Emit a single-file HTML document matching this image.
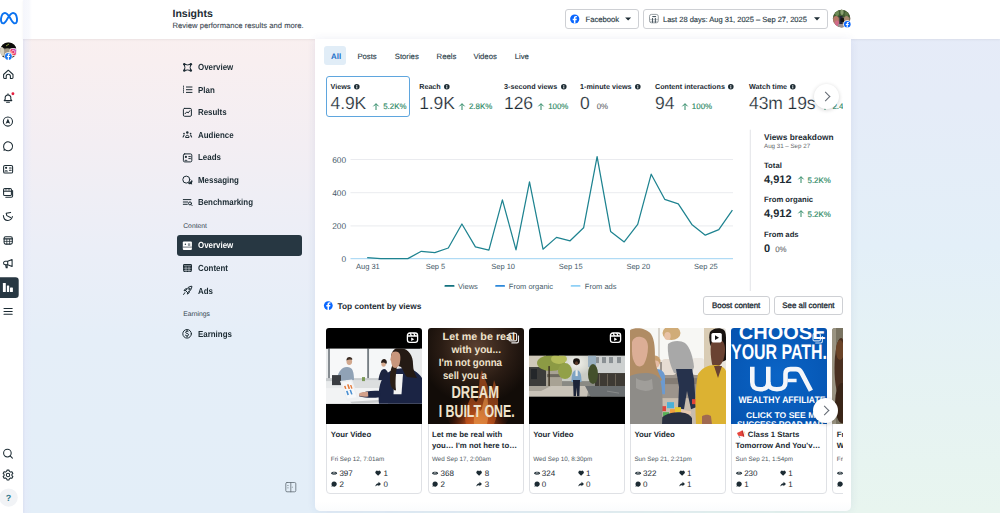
<!DOCTYPE html>
<html><head><meta charset="utf-8">
<style>
*{margin:0;padding:0;box-sizing:border-box}
html,body{width:1000px;height:513px;overflow:hidden}
body{text-rendering:geometricPrecision;font-family:"Liberation Sans",sans-serif;color:#1c2b33;position:relative;background:#eceef6}
.a{position:absolute}
.t{position:absolute;white-space:nowrap;line-height:1}
.b{font-weight:bold}
#bgL{left:0;top:0;width:1000px;height:513px;background:linear-gradient(180deg,#fbf0ef 0%,#f8eff0 12%,#f3eef3 28%,#ebeef7 48%,#e5eef8 66%,#e3eef8 100%)}
#bgS{left:23px;top:39px;width:9px;height:474px;background:linear-gradient(90deg,rgba(228,232,250,.7),rgba(228,232,250,0))}
#bgR{left:0;top:0;width:1000px;height:513px;background:linear-gradient(180deg,#e6ebf8 0%,#e5ecf8 20%,#e3eff8 48%,#e6f3f2 80%,#e8f5ef 100%);-webkit-mask-image:linear-gradient(90deg,transparent 0,transparent 300px,#000 860px,#000 1000px)}
#rail{left:0;top:0;width:23px;height:513px;background:#fff;box-shadow:1px 0 2px rgba(0,0,0,.04)}
#hdr{left:23px;top:0;width:977px;height:39px;background:linear-gradient(90deg,#f5f6fc 0,#f8f9fd 6px,#fff 9px);box-shadow:0 1px 2px rgba(0,0,0,.06)}
#main{left:315.2px;top:39px;width:535.6px;height:471.5px;background:linear-gradient(180deg,#fff 0,#fff 462px,#fbfcfd 471px);border-radius:0 0 5px 5px;box-shadow:0 0 9px rgba(60,70,150,.085)}
.nav{font-size:8.8px;font-weight:bold;color:#1c2b33;transform:scaleX(.9);transform-origin:0 0}
.sec{font-size:6.8px;color:#34434e}
svg{position:absolute;overflow:visible}
.tab{top:52.8px;font-size:7.7px;color:#283b47;-webkit-text-stroke:.12px #283b47}
.mlab{top:13px;font-size:7.2px;font-weight:bold;color:#1c2b33}
.inf{display:inline-block;width:5.6px;height:5.6px;margin-left:3.4px;vertical-align:-0.3px;position:relative}
.inf:after{content:"";position:absolute;left:2.3px;top:2.1px;width:.9px;height:2.2px;background:#fff}
.inf:before{content:"";position:absolute;left:2.3px;top:1px;width:.9px;height:.8px;background:#fff}
.mval{top:25.3px;font-size:17.5px;color:#1c2b33;letter-spacing:-.1px;-webkit-text-stroke:.22px #fff}
.chg{font-size:7.9px;color:#2e8a66;margin-left:7px;letter-spacing:0;-webkit-text-stroke:.15px #2e8a66}
.ua{position:relative;display:inline-block;width:6px;height:7px;margin-right:4px;vertical-align:-0.3px}
.card{position:absolute;top:8.2px;width:96px;height:166px;border:1px solid #dfe1e5;border-radius:4px;background:#fff}
.th{overflow:hidden;position:absolute;left:-1px;top:-1px;width:96px;height:96.2px;border-radius:3px 3px 0 0}
.ctt{position:absolute;left:3.4px;top:100.3px;font-size:7.8px;font-weight:bold;line-height:11px;white-space:nowrap;color:#1c2b33}
.mg{position:relative;display:inline-block;width:9.5px;height:8.5px;vertical-align:-1px;margin-right:.5px}
.cdt{position:absolute;left:3.4px;top:127.8px;font-size:6.3px;line-height:1;white-space:nowrap;color:#4f5a63}
.cst{position:absolute;left:3.8px;font-size:8px;line-height:8px;white-space:nowrap;color:#1c2b33}
.cst .ic{position:relative;display:inline-block;width:6.2px;height:6.2px;margin-right:2px;vertical-align:-0.4px}
.btn{top:295.9px;height:18.9px;border:1px solid #ced0d4;border-radius:3px;background:#fff;font-size:7.9px;-webkit-text-stroke:.3px #1c2b33;text-align:center;line-height:18px;color:#1c2b33;white-space:nowrap}
.nxt{width:25px;height:25px;border-radius:50%;background:#fff;box-shadow:0 1px 4px rgba(0,0,0,.18)}
.nxt:after{content:"";position:absolute;left:8.6px;top:8.8px;width:6px;height:6px;border-right:1px solid #606770;border-top:1px solid #606770;transform:rotate(45deg)}

</style></head><body>
<div id="bgL" class="a"></div>
<div id="bgR" class="a"></div>
<div id="bgS" class="a"></div>

<!-- left rail -->
<div id="rail" class="a"></div>
<svg style="left:0;top:0" width="23" height="513" viewBox="0 0 23 513">
 <!-- meta logo -->
 <path d="M3 23.4C1.1 23.4 .8 20.2 1.1 18.2 1.6 14.8 3.3 13 5 13 7 13 8.5 15.2 10.5 18.6 12 21.2 13.1 23.4 15 23.4 16.9 23.4 17.2 20.6 16.9 18.2 16.5 15 15 13 13 13 11 13 9.5 15.2 7.5 18.6 6 21.2 4.9 23.4 3 23.4Z" fill="none" stroke="#0a72f0" stroke-width="1.9"/>
 <!-- avatar -->
 <defs><clipPath id="av"><circle cx="8.4" cy="50.6" r="8.2"/></clipPath>
 <linearGradient id="ig" x1="0" y1="1" x2="1" y2="0"><stop offset="0" stop-color="#ffb13a"/><stop offset=".45" stop-color="#f0335c"/><stop offset="1" stop-color="#a44cf2"/></linearGradient></defs>
 <g clip-path="url(#av)">
  <rect x="0" y="42" width="17" height="18" fill="#8f8a7c"/>
  <rect x="0" y="42" width="17" height="6.5" fill="#0c0c0a"/>
  <ellipse cx="1.5" cy="52" rx="3" ry="5" fill="#d8d2bf"/>
  <ellipse cx="7.5" cy="52" rx="3" ry="3.6" fill="#a59a86"/>
  <rect x="0" y="56" width="17" height="5" fill="#3a3c34"/>
  <path d="M6 46l3-2" stroke="#8a9a40" stroke-width="1"/>
 </g>
 <rect x="10" y="48.6" width="6.3" height="7" rx="1.6" fill="url(#ig)" stroke="#fff" stroke-width=".8"/>
 <rect x="11.8" y="50.5" width="2.8" height="3" rx=".8" fill="none" stroke="#fff" stroke-width=".6"/>
 <circle cx="8.4" cy="56.4" r="4.1" fill="#fff"/>
 <circle cx="8.4" cy="56.4" r="3.4" fill="#1877f2"/>
 <path d="M8.9 60v-3h1l.2-1.1H8.9v-.8c0-.4.2-.6.6-.6h.7v-1a5 5 0 0 0-.9-.1c-1 0-1.5.6-1.5 1.5v1h-.9V57h.9v3z" fill="#fff"/>
 <g fill="none" stroke="#1c2b33" stroke-width="1.05" stroke-linejoin="round" stroke-linecap="round">
  <!-- home -->
  <path d="M3.6 74.5L8.3 70.2 13 74.5V77.6a.9.9 0 0 1-.9.9H10.4V76.3a2.1 2.1 0 0 0-4.2 0V78.5H4.5a.9.9 0 0 1-.9-.9Z"/>
  <!-- bell -->
  <path d="M4.2 100.6h7.6l-1-1.4V97a2.9 2.9 0 0 0-5.6 0v2.2Z"/>
  <path d="M6.6 102.3h2.8"/>
  <path d="M8 93.8v.5"/>
  <!-- compass -->
  <circle cx="7.9" cy="121.5" r="4.6"/>
  <!-- chat -->
  <path d="M5 149.6A4.5 4.5 0 1 0 3.6 146.5c0 .9.3 1.8.7 2.5L4 150.3Z"/>
  <!-- contact card -->
  <rect x="3.6" y="165.4" width="9" height="7.7" rx="1.4"/>
  <path d="M9.4 168h1.8M9.4 170.2h1.8"/>
  <!-- stacked -->
  <rect x="3.6" y="188.4" width="7.8" height="7.2" rx="1.2"/>
  <path d="M12.6 190.5V196a1.3 1.3 0 0 1-1.3 1.3H5.8"/>
  <path d="M3.6 191.3h7.8"/><path d="M5.3 189.9h1.2M8 189.9h1.6" stroke-width=".8"/>
  <!-- swirl -->
  <path d="M3.4 215.6c.3 3.2 2 4.9 4.5 4.8 2.1-.1 3.8-1.4 4.5-3.8"/>
  <path d="M6.2 213.3l4.4-.9M6.2 213.3l.6 2.3 3.7 1.9"/>
  <!-- calendar -->
  <rect x="4.1" y="236.8" width="8.2" height="7.3" rx="1.5"/>
  <path d="M4.1 238.9h8.2" stroke-width="1.3"/>
  <path d="M4.3 241.4h7.8M6.8 239.4v4.6M9.6 239.4v4.6" stroke-width=".75"/>
  <!-- megaphone -->
  <path d="M7.7 261.3H5.3a1.75 1.75 0 0 0 0 3.5h2.4ZM7.7 261.3l4.4-1.7v7l-4.4-1.8"/>
  <path d="M5.7 264.9l.5 2.9h1l-.1-2.9"/>
  <!-- hamburger -->
  <path d="M4 308.5h8.2M4 311.4h8.2M4 314.2h8.2"/>
  <!-- search -->
  <circle cx="7.4" cy="453.1" r="3.8"/>
  <path d="M10.2 455.9l2.2 2.2"/>
  <!-- gear -->
  <circle cx="8" cy="475" r="1.7"/>
  <path d="M7 470.1h2l.4 1.3 1.2.7 1.3-.4 1 1.7-1 1v1.2l1 1-1 1.7-1.3-.4-1.2.7-.4 1.3H7l-.4-1.3-1.2-.7-1.3.4-1-1.7 1-1v-1.2l-1-1 1-1.7 1.3.4 1.2-.7Z"/>
 </g>
 <g fill="#1c2b33">
  <path d="M7.9 118.6l2.3 5.2-2.3-1-2.3 1Z"/>
  <circle cx="6.1" cy="167.8" r="1.1"/>
  <path d="M4.3 171.6a1.9 1.6 0 0 1 3.7 0Z"/>
  
 </g>
 <circle cx="12.9" cy="93.7" r="1.45" fill="#e41e3f"/>
 <!-- active insights -->
 <rect x="-4" y="277.2" width="22.7" height="20.8" rx="3.2" fill="#273742"/>
 <g fill="#fff"><rect x="2.9" y="283" width="2.9" height="8.9" rx=".5"/><rect x="6.9" y="285.6" width="2.3" height="6.3" rx=".5"/><rect x="10" y="287.4" width="2.9" height="4.5" rx=".5"/></g>
 <!-- help -->
 <circle cx="8.6" cy="497.6" r="9.2" fill="#f1f3f6"/>
 <text x="8.6" y="500.8" font-family="Liberation Sans" font-weight="bold" font-size="9" fill="#357d92" text-anchor="middle">?</text>
</svg>

<!-- header -->
<div id="hdr" class="a"></div>
<div class="t b" style="left:172.5px;top:9.2px;font-size:10.5px;color:#1c2b33">Insights</div>
<div class="t" style="left:172.5px;top:21.6px;font-size:7.65px;color:#3d4852;-webkit-text-stroke:.1px #3d4852">Review performance results and more.</div>

<!-- header controls -->
<div class="a" style="left:565.3px;top:9.2px;width:73.4px;height:20px;border:1px solid #ced0d4;border-radius:3px;background:#fff"></div>
<div class="a" style="left:643.4px;top:9.3px;width:184.3px;height:19.9px;border:1px solid #ced0d4;border-radius:3px;background:#fff"></div>
<div class="t" style="left:585.6px;top:15.5px;font-size:7.7px;color:#2b3c47;letter-spacing:-.05px;-webkit-text-stroke:.15px #2b3c47">Facebook</div>
<div class="t" style="left:663px;top:15.6px;font-size:7.5px;color:#2b3c47;-webkit-text-stroke:.15px #2b3c47">Last 28 days: Aug 31, 2025 – Sep 27, 2025</div>
<svg style="left:0;top:0" width="1000" height="40" viewBox="0 0 1000 40">
 <circle cx="574.7" cy="19" r="4.6" fill="#0866ff"/>
 <path d="M575.4 23.6v-3.4h1.2l.2-1.4h-1.4v-.9c0-.4.2-.7.7-.7h.8v-1.2a8 8 0 0 0-1.1-.1c-1.1 0-1.9.7-1.9 1.9v1h-1.2v1.4h1.2v3.4z" fill="#fff"/>
 <path d="M625.1 17.4h6l-3 3.1Z" fill="#1c2b33"/>
 <path d="M814 17.3h6l-3 3.1Z" fill="#1c2b33"/>
 <g fill="none">
  <rect x="649.5" y="14.4" width="8.8" height="8.4" rx="2" stroke="#7d868c" stroke-width=".8"/>
  <path d="M649.8 19.4h8.2M649.8 21.3h8.2" stroke="#a3aab0" stroke-width=".7"/>
  <path d="M652.3 16.6h3.8" stroke="#3c4b55" stroke-width="1"/>
  <path d="M652.5 18v4.8M655.4 18v4.8" stroke="#3c4b55" stroke-width=".9"/>
 </g>
 <!-- avatar -->
 <defs><clipPath id="av2"><circle cx="841.6" cy="18.6" r="8.8"/></clipPath></defs>
 <g clip-path="url(#av2)">
  <rect x="832" y="9" width="19" height="19" fill="#7a6a58"/>
  <rect x="832" y="9" width="19" height="8.5" fill="#3f5a30"/>
  <ellipse cx="837" cy="13" rx="2" ry="3" fill="#6d8a55"/><ellipse cx="842" cy="12" rx="1.6" ry="3" fill="#8aa070"/><ellipse cx="846.5" cy="14" rx="2" ry="2.5" fill="#5a7444"/>
  <ellipse cx="836" cy="20" rx="2.8" ry="4" fill="#b87868"/>
  <ellipse cx="837" cy="23.5" rx="2.2" ry="3" fill="#d06a88"/>
  <rect x="839.5" y="16" width="3" height="11" fill="#23263a"/>
  <ellipse cx="842.5" cy="20" rx="2" ry="2.2" fill="#161412"/>
  <ellipse cx="846.5" cy="19" rx="2.5" ry="3" fill="#a88a70"/>
  <rect x="838" y="24" width="6" height="4" fill="#9a9090"/>
 </g>
 <circle cx="847.3" cy="24.2" r="4" fill="#fff"/>
 <circle cx="847.3" cy="24.2" r="3.3" fill="#0866ff"/>
 <path d="M847.8 27.5v-2.5h.9l.1-1h-1v-.6c0-.3.1-.5.5-.5h.5v-.9a6 6 0 0 0-.8 0c-.8 0-1.3.5-1.3 1.3v.7h-.9v1h.9v2.5z" fill="#fff"/>
</svg>

<!-- sidebar -->
<div class="a" style="left:176.6px;top:235.2px;width:125.8px;height:20.6px;border-radius:3px;background:#273742"></div>
<div class="t nav" style="left:198.3px;top:63.2px">Overview</div>
<div class="t nav" style="left:198.3px;top:85.6px">Plan</div>
<div class="t nav" style="left:198.3px;top:108.1px">Results</div>
<div class="t nav" style="left:198.3px;top:130.7px">Audience</div>
<div class="t nav" style="left:198.3px;top:153.2px">Leads</div>
<div class="t nav" style="left:198.3px;top:175.7px">Messaging</div>
<div class="t nav" style="left:198.3px;top:198.2px">Benchmarking</div>
<div class="t sec" style="left:183.2px;top:223.6px">Content</div>
<div class="t nav" style="left:198px;top:241.4px;color:#fff">Overview</div>
<div class="t nav" style="left:198.3px;top:263.7px">Content</div>
<div class="t nav" style="left:198.3px;top:286.5px">Ads</div>
<div class="t sec" style="left:183.2px;top:311.6px">Earnings</div>
<div class="t nav" style="left:198.3px;top:329.6px">Earnings</div>
<svg style="left:0;top:0" width="320" height="513" viewBox="0 0 320 513">
 <g fill="none" stroke="#1c2b33" stroke-width="1" stroke-linecap="round" stroke-linejoin="round">
  <!-- overview -->
  <path d="M184.3 64.3Q187.55 65.6 190.8 64.3Q189.5 67.45 190.8 70.6Q187.55 69.3 184.3 70.6Q185.6 67.45 184.3 64.3Z"/>
  <!-- plan -->
  <path d="M186.4 87h5.6M186.4 89.7h5.6M186.4 92.4h5.6"/>
  <path d="M183.5 86v7.6" stroke-dasharray="1 .9" stroke-width=".8"/>
  <!-- results -->
  <rect x="183.4" y="108.4" width="8" height="7.9" rx="1.2"/>
  <path d="M185 113.8l1.8-1.9 1.4 1 1.7-2.2"/>
  <!-- audience -->
  <path d="M185.6 137.1c0-1.2.7-1.8 1.7-1.8s1.7.6 1.7 1.8Z"/><path d="M183.1 136.9l.9-1.6M191.6 136.9l-.9-1.6" stroke-width="1.1"/>
  <!-- leads -->
  <rect x="183.4" y="153.9" width="8.4" height="8" rx="1.3"/>
  <path d="M188.8 156.6h1.6M188.8 158.6h1.6"/>
  <!-- messaging -->
  <circle cx="186.3" cy="179.6" r="3.5"/>
  <!-- benchmarking -->
  <path d="M183.3 199.6h7.6M183.3 202h4.4M183.3 204.3h4"/>
  <circle cx="190" cy="203.4" r="1.5"/><path d="M191.1 204.6l1 1"/>
  <!-- content table -->

  <!-- ads rocket -->
  <path d="M185.6 290.6l1.9 1.9c2.6-1.2 4.3-3.4 4.4-6.3-2.9.1-5.1 1.8-6.3 4.4Z"/>
  <path d="M185.6 290.6l-1.6.1 1.3-1.8h1.7M187.5 292.5l-.1 1.6 1.8-1.3v-1.7M184.9 292.6l-1.3 1.9"/>
  <circle cx="189.3" cy="288.9" r=".7"/>
  <!-- earnings -->
  <circle cx="187.1" cy="333.8" r="4.3"/>
  <path d="M188.4 331.8c-.4-.5-.9-.6-1.4-.6-.8 0-1.4.4-1.4 1.1 0 1.5 3 .8 3 2.4 0 .7-.6 1.2-1.6 1.2-.6 0-1.2-.2-1.6-.7M187.1 330.4v.8M187.1 336v.9"/>
  <!-- collapse -->
  <rect x="285.8" y="482.5" width="10" height="9.3" rx="1.2" stroke="#5f6b73" stroke-width=".8"/>
  <path d="M290.8 482.5v9.3" stroke="#5f6b73" stroke-width=".8"/>
 </g>
 <g fill="#1c2b33">
  <circle cx="184.3" cy="64.3" r="1.25"/><circle cx="190.8" cy="64.3" r="1.25"/><circle cx="184.3" cy="70.6" r="1.25"/><circle cx="190.8" cy="70.6" r="1.25"/>
  <path d="M189.6 182a3 3 0 0 0 2.2-2.3 2.3 2.3 0 0 1 .1 3.2l.3 1.6-1.6-.5a3.5 3.5 0 0 1-2.6-.2Z"/>
  <circle cx="185.9" cy="156.9" r="1.1"/><circle cx="187.3" cy="132.6" r="1.25"/><circle cx="184" cy="133.6" r=".85"/><circle cx="190.6" cy="133.6" r=".85"/><path d="M184.3 160.8a1.7 1.4 0 0 1 3.3 0Z"/>
  <rect x="183" y="264.1" width="9" height="7.9" rx="1.4"/>
  <path d="M292.6 486.6l-1 .6 1 .6Z" fill="#5f6b73"/>
  <rect x="287.2" y="485.2" width="1.4" height=".6" fill="#5f6b73"/><rect x="287.2" y="487.6" width="1.4" height=".6" fill="#5f6b73"/>
 </g>
 <path d="M184 265.7h7M183.6 268.2h7.8M183.6 270.4h7.8M186 266.5v5.3M189 266.5v5.3" stroke="#eaeef5" stroke-width=".55"/>
 <!-- active overview icon -->
 <rect x="182.8" y="241.5" width="9.1" height="8.4" rx="1" fill="#fff"/>
 <circle cx="185.4" cy="244.3" r=".75" fill="#273742"/>
 <rect x="187.9" y="243.3" width="2.4" height="2.6" fill="#8d969c"/>
 <path d="M182.8 247.1h9.1" stroke="#5d6870" stroke-width=".9"/>
</svg>

<!-- main panel -->
<div id="main" class="a"></div>
<!-- tabs -->
<div class="a" style="left:324px;top:46px;width:22px;height:19.1px;border-radius:3px;background:#e1edf7"></div>
<div class="t b" style="left:331px;top:52.5px;font-size:7.9px;color:#1d6fc9">All</div>
<div class="t tab" style="left:357.4px">Posts</div>
<div class="t tab" style="left:394.8px">Stories</div>
<div class="t tab" style="left:436.6px">Reels</div>
<div class="t tab" style="left:473.4px">Videos</div>
<div class="t tab" style="left:514.7px">Live</div>

<!-- metrics -->
<div class="a" style="overflow:hidden;left:323px;top:70px;width:520px;height:52px">
 <div class="a" style="left:3.2px;top:6.3px;width:84px;height:40.6px;border:1px solid #5fa6de;border-radius:3px"></div>
 <div class="t mlab" style="left:7.6px">Views<svg class="inf" viewBox="0 0 6 6"><circle cx="3" cy="3" r="3" fill="#1c2b33"/><rect x="2.5" y="2.5" width="1" height="2.3" fill="#fff"/><rect x="2.5" y="1.1" width="1" height=".9" fill="#fff"/></svg></div>
 <div class="t mval" style="left:7.6px">4.9K<span class="chg"><svg class="ua" viewBox="0 0 6 7"><path d="M3 7V.8M.4 3.3L3 .7l2.6 2.6" fill="none" stroke="#2e8a66" stroke-width="1"/></svg>5.2K%</span></div>
 <div class="t mlab" style="left:96.2px">Reach<svg class="inf" viewBox="0 0 6 6"><circle cx="3" cy="3" r="3" fill="#1c2b33"/><rect x="2.5" y="2.5" width="1" height="2.3" fill="#fff"/><rect x="2.5" y="1.1" width="1" height=".9" fill="#fff"/></svg></div>
 <div class="t mval" style="left:96.2px">1.9K<span class="chg" style="margin-left:4.2px"><svg class="ua" viewBox="0 0 6 7"><path d="M3 7V.8M.4 3.3L3 .7l2.6 2.6" fill="none" stroke="#2e8a66" stroke-width="1"/></svg>2.8K%</span></div>
 <div class="t mlab" style="left:181px">3-second views<svg class="inf" viewBox="0 0 6 6"><circle cx="3" cy="3" r="3" fill="#1c2b33"/><rect x="2.5" y="2.5" width="1" height="2.3" fill="#fff"/><rect x="2.5" y="1.1" width="1" height=".9" fill="#fff"/></svg></div>
 <div class="t mval" style="left:181px">126<span class="chg" style="margin-left:5.3px"><svg class="ua" viewBox="0 0 6 7"><path d="M3 7V.8M.4 3.3L3 .7l2.6 2.6" fill="none" stroke="#2e8a66" stroke-width="1"/></svg>100%</span></div>
 <div class="t mlab" style="left:257px">1-minute views<svg class="inf" viewBox="0 0 6 6"><circle cx="3" cy="3" r="3" fill="#1c2b33"/><rect x="2.5" y="2.5" width="1" height="2.3" fill="#fff"/><rect x="2.5" y="1.1" width="1" height=".9" fill="#fff"/></svg></div>
 <div class="t mval" style="left:257px">0<span class="chg" style="color:#65676b;-webkit-text-stroke:.1px #65676b">0%</span></div>
 <div class="t mlab" style="left:332px">Content interactions<svg class="inf" viewBox="0 0 6 6"><circle cx="3" cy="3" r="3" fill="#1c2b33"/><rect x="2.5" y="2.5" width="1" height="2.3" fill="#fff"/><rect x="2.5" y="1.1" width="1" height=".9" fill="#fff"/></svg></div>
 <div class="t mval" style="left:332px">94<span class="chg" style="margin-left:7.6px"><svg class="ua" viewBox="0 0 6 7"><path d="M3 7V.8M.4 3.3L3 .7l2.6 2.6" fill="none" stroke="#2e8a66" stroke-width="1"/></svg>100%</span></div>
 <div class="t mlab" style="left:426px">Watch time<svg class="inf" viewBox="0 0 6 6"><circle cx="3" cy="3" r="3" fill="#1c2b33"/><rect x="2.5" y="2.5" width="1" height="2.3" fill="#fff"/><rect x="2.5" y="1.1" width="1" height=".9" fill="#fff"/></svg></div>
 <div class="t mval" style="left:426px">43m 19s<span class="chg"><svg class="ua" viewBox="0 0 6 7"><path d="M3 7V.8M.4 3.3L3 .7l2.6 2.6" fill="none" stroke="#2e8a66" stroke-width="1"/></svg>2.4K%</span></div>
</div>
<div class="a nxt" style="left:813.5px;top:84.3px"></div>

<!-- chart -->
<svg style="left:0;top:0" width="1000" height="300" viewBox="0 0 1000 300">
 <g stroke="#e4e6eb" stroke-width=".8"><path d="M350.5 159.5H733M350.5 192.7H733M350.5 225.9H733"/></g>
 <path d="M350.5 258.7H733" stroke="#9ed3f3" stroke-width="1"/>
 <path d="M750.3 129.7V291" stroke="#dadde1" stroke-width=".8"/>
 <polyline fill="none" stroke="#1e8390" stroke-width="1.25" stroke-linejoin="round" points="367.2,257.7 380.7,258.6 394.2,258.6 407.8,258.6 421.3,251.3 434.8,252.7 448.3,248 461.9,224 475.4,246.9 488.9,250.2 502.4,199.8 516,249.8 529.5,181.8 543,249.2 556.5,237.4 570.1,240.8 583.6,227.8 597.1,156.7 610.6,231.4 624.2,241.9 637.7,224.4 651.2,174.2 664.7,199.3 678.3,203.8 691.8,224.4 705.3,235.2 718.8,229.6 732.4,210.1"/>
 <g font-family="Liberation Sans" font-size="7.5" fill="#465a69">
  <text x="346.2" y="162.6" text-anchor="end" font-size="8.4">600</text>
  <text x="346.2" y="195.7" text-anchor="end" font-size="8.4">400</text>
  <text x="346.2" y="229" text-anchor="end" font-size="8.4">200</text>
  <text x="346.2" y="261.5" text-anchor="end" font-size="8.4">0</text>
  <g text-anchor="middle">
  <text x="367.9" y="269.1">Aug 31</text>
  <text x="435.5" y="269.1">Sep 5</text>
  <text x="503.1" y="269.1">Sep 10</text>
  <text x="570.7" y="269.1">Sep 15</text>
  <text x="638.3" y="269.1">Sep 20</text>
  <text x="705.9" y="269.1">Sep 25</text>
  </g>
  <text x="458" y="288.7">Views</text>
  <text x="508.8" y="288.7">From organic</text>
  <text x="584.8" y="288.7">From ads</text>
 </g>
 <path d="M445.3 285.9h8.4" stroke="#12717e" stroke-width="1.7" stroke-linecap="round"/>
 <path d="M496 285.9h8.2" stroke="#2d88da" stroke-width="1.7" stroke-linecap="round"/>
 <path d="M571.5 285.9h8.2" stroke="#8fd0f6" stroke-width="1.7" stroke-linecap="round"/>
</svg>
<!-- top content header -->
<svg style="left:0;top:0" width="340" height="320" viewBox="0 0 340 320">
 <circle cx="328.3" cy="305.6" r="4.4" fill="#0866ff"/>
 <path d="M329 310v-3.5h1.2l.2-1.4H329v-.9c0-.4.2-.7.7-.7h.8v-1.2a8 8 0 0 0-1.1-.1c-1.1 0-1.9.7-1.9 1.9v1h-1.2v1.4h1.2v3.5z" fill="#fff"/>
</svg>
<div class="t b" style="left:337.5px;top:302.4px;font-size:8.3px">Top content by views</div>
<div class="a btn" style="left:702.8px;top:295.9px;width:66.8px">Boost content</div>
<div class="a btn" style="left:774.2px;top:295.9px;width:68.4px">See all content</div>

<!-- CARDS -->
<div class="a" style="overflow:hidden;left:320px;top:320px;width:523px;height:180px">
<div class="card" style="left:6.40px">
<svg class="th" viewBox="0 0 96 96" preserveAspectRatio="none">
 <defs><clipPath id="c1"><rect x="0" y="20.8" width="96" height="54.9"/></clipPath></defs>
 <rect width="96" height="96" fill="#000"/>
 <g clip-path="url(#c1)">
  <rect x="0" y="20" width="96" height="56" fill="#e9ebec"/>
  <rect x="4" y="20" width="37" height="31" fill="#f7f8f9"/>
  <rect x="43.5" y="20" width="26" height="31" fill="#f5f7f8"/>
  <rect x="2.2" y="20" width="1.6" height="32" fill="#6e767b"/>
  <rect x="41.2" y="20" width="1.8" height="32" fill="#767e83"/>
  <rect x="0" y="50" width="70" height="3" fill="#c9cdcf"/>
  <rect x="94" y="20" width="2" height="56" fill="#e8e8e8"/>
  <path d="M11 54c0-9 4-15 10-15s7 5 7 15Z" fill="#90a2b6"/>
  <ellipse cx="23.3" cy="33.5" rx="2.8" ry="3.4" fill="#d2a88e"/>
  <path d="M20.4 32.5c0-2.5 1.3-3.6 3-3.6s3 1 3 2.6l-1.2.3c-1-.7-2.6-.5-4.8.7Z" fill="#3d2e25"/>
  <rect x="6" y="47" width="9" height="10" fill="#3a3d42"/>
  <path d="M52 60c0-10 2-19 6-19s6 8 6 19Z" fill="#1c2440"/>
  <ellipse cx="57.6" cy="35.8" rx="2.3" ry="2.9" fill="#d6ab90"/>
  <path d="M55.1 35c0-3 1.5-4 3-4s2.8 1.2 2.8 3.5l-.8 1.8c-.4-1.6-2.4-2.6-5-1.3Z" fill="#2a201c"/>
  <rect x="20" y="52" width="36" height="8" fill="#dcdedf"/>
  <rect x="36" y="49" width="3" height="4" fill="#7c9a58"/>
  <rect x="0" y="60" width="62" height="16" fill="#f2f3f4"/>
  <path d="M14 53l12-1.5 7 20-12 1.5Z" fill="#eef0f2"/>
  <path d="M16 54.3l9-1.2 5.5 16-9 1.2Z" fill="#f7f8fa"/>
  <path d="M18 58l1.5-.3 1 3-1.5.3ZM21 56.5l1.6-.3 1.5 4.5-1.6.3ZM24 57l1.4-.2 1.2 3.6-1.4.2Z" fill="#e47a3a"/>
  <path d="M20 63l1.6-.3 1.4 4-1.6.3ZM23.5 62l1.5-.3 1.6 4.3-1.5.3Z" fill="#4a8fd0"/>
  <path d="M24 73.5l32-2 4 2.5-34 1.6Z" fill="#c9cbcd"/>
  <path d="M96 76H53c-1-10 0-20 4-26 3-5 8-8 13-9l8-1c8 0 14 4 18 10Z" fill="#1b2444"/>
  <path d="M33 66c6-3 14-4 22-3l-1 6c-7 1-14 1-21-1Z" fill="#1b2444"/>
  <path d="M33 65.5c2-1.5 6-2.2 9-1.8l.3 4.6c-3.4.6-6.8.3-9.3-.8Z" fill="#d2a08a"/>
  <path d="M68.5 46h8.5l-1.5 20h-8Z" fill="#f3f3f3"/>
  <path d="M65 30c0-7 4-11 10-10 8 1 12 8 12 16 0 6 2 10 4 14l-10-1c-3-3-4-8-6-10-3-1-7-4-10-9Z" fill="#241a14"/>
  <path d="M67 36c-3 6-4 14-2 22 2 4 4 5 5 4-1-8 0-18 1-24Z" fill="#2a1e16"/>
  <path d="M66 24.5c3-2 7-1.5 8 2 .8 3 .3 7-.5 10-1.5 3-4 4-6 3-1.5-1-2.2-4-2.5-7l-.8-.2c.6-2.5 1-5.5 1.8-7.8Z" fill="#c8967c"/>
 </g>
 <g fill="none" stroke="#fff" stroke-width="1.3"><rect x="81.4" y="5" width="10.2" height="9.3" rx="2.4"/><path d="M81.4 8h10.2M84 5l1.6 3M87.6 5l1.6 3"/></g>
 <path d="M85.2 9.6v3.4l3-1.7Z" fill="#fff"/>
</svg>

<div class="ctt">Your Video</div>
<div class="cdt">Fri Sep 12, 7:01am</div>
<div class="cst" style="top:141px"><svg class="ic" viewBox="0 0 6 6"><path d="M0 3.1C1 1.2 5 1.2 6 3.1 5 5 1 5 0 3.1Z" fill="#1c2b33"/><circle cx="3" cy="3.1" r="1.05" fill="none" stroke="#fff" stroke-width=".45"/></svg><span>397</span></div>
<div class="cst" style="top:141px;left:47.9px"><svg class="ic" viewBox="0 0 6 6"><path d="M3 5.6L.7 3.3A1.5 1.5 0 0 1 3 1.2 1.5 1.5 0 0 1 5.3 3.3Z" fill="#1c2b33"/></svg><span>1</span></div>
<div class="cst" style="top:151.8px"><svg class="ic" viewBox="0 0 6 6"><path d="M3 .4a2.6 2.6 0 1 1-1.4 4.8L.4 5.6l.4-1.3A2.6 2.6 0 0 1 3 .4Z" fill="#1c2b33"/></svg><span>2</span></div>
<div class="cst" style="top:151.8px;left:47.9px"><svg class="ic" viewBox="0 0 6 6"><path d="M3.4.8L5.8 3 3.4 5.2V4C2 4 1 4.3.3 5.3.5 3.5 1.5 2.3 3.4 2.1Z" fill="#1c2b33"/></svg><span>0</span></div>
</div>
<div class="card" style="left:107.60px">
<svg class="th" viewBox="0 0 96 96" preserveAspectRatio="none">
 <defs>
  <radialGradient id="g2a" cx=".5" cy=".2" r=".6"><stop offset="0" stop-color="#5a4030"/><stop offset=".6" stop-color="#2a1c14"/><stop offset="1" stop-color="#120c08"/></radialGradient>
  <radialGradient id="g2b" cx=".5" cy=".85" r=".5"><stop offset="0" stop-color="#d88840"/><stop offset=".35" stop-color="#a8481c"/><stop offset=".7" stop-color="#5a200c" stop-opacity=".6"/><stop offset="1" stop-color="#2a1008" stop-opacity="0"/></radialGradient>
 </defs>
 <rect width="96" height="96" fill="url(#g2a)"/>
 <ellipse cx="50" cy="76" rx="34" ry="34" fill="url(#g2b)"/>
 <path d="M38 96c-3-12 2-20 6-30 2 8 5 10 6 4 2-10 0-18 4-28 3 12 8 16 6 26 4-4 5-10 6-16 5 12 6 30 0 44Z" fill="#c8581e" opacity=".6"/>
 <path d="M46 96c-1-8 2-12 4-18 1 5 3 6 4 2 1-6 2-10 5-14 1 10 3 18 0 30Z" fill="#f0a050" opacity=".55"/>
 <g fill="#efe3cc" font-family="Liberation Sans" font-weight="bold">
  <text x="14.6" y="11.6" font-size="10.5" textLength="72.5" lengthAdjust="spacingAndGlyphs">Let me be real</text>
  <text x="23.5" y="25.2" font-size="10.5" textLength="49.5" lengthAdjust="spacingAndGlyphs">with you...</text>
  <text x="10.7" y="38" font-size="10.5" textLength="63.3" lengthAdjust="spacingAndGlyphs">I'm not gonna</text>
  <text x="15" y="51" font-size="10.5" textLength="43.8" lengthAdjust="spacingAndGlyphs">sell you a</text>
  <text x="23.5" y="69.8" font-size="17.5" textLength="47.5" lengthAdjust="spacingAndGlyphs">DREAM</text>
  <text x="10.7" y="88.4" font-size="17.5" textLength="76" lengthAdjust="spacingAndGlyphs">I BUILT ONE.</text>
 </g>
 <g fill="none" stroke="#fff" stroke-width="1.1" opacity=".9"><rect x="81" y="5.3" width="7.6" height="7.6" rx="1.5"/><path d="M83.4 14.8h5.4a1.7 1.7 0 0 0 1.7-1.7V7.6"/></g>
</svg>

<div class="ctt">Let me be real with<br>you… I'm not here to…</div>
<div class="cdt">Wed Sep 17, 2:00am</div>
<div class="cst" style="top:141px"><svg class="ic" viewBox="0 0 6 6"><path d="M0 3.1C1 1.2 5 1.2 6 3.1 5 5 1 5 0 3.1Z" fill="#1c2b33"/><circle cx="3" cy="3.1" r="1.05" fill="none" stroke="#fff" stroke-width=".45"/></svg><span>368</span></div>
<div class="cst" style="top:141px;left:47.9px"><svg class="ic" viewBox="0 0 6 6"><path d="M3 5.6L.7 3.3A1.5 1.5 0 0 1 3 1.2 1.5 1.5 0 0 1 5.3 3.3Z" fill="#1c2b33"/></svg><span>8</span></div>
<div class="cst" style="top:151.8px"><svg class="ic" viewBox="0 0 6 6"><path d="M3 .4a2.6 2.6 0 1 1-1.4 4.8L.4 5.6l.4-1.3A2.6 2.6 0 0 1 3 .4Z" fill="#1c2b33"/></svg><span>2</span></div>
<div class="cst" style="top:151.8px;left:47.9px"><svg class="ic" viewBox="0 0 6 6"><path d="M3.4.8L5.8 3 3.4 5.2V4C2 4 1 4.3.3 5.3.5 3.5 1.5 2.3 3.4 2.1Z" fill="#1c2b33"/></svg><span>3</span></div>
</div>
<div class="card" style="left:208.80px">
<svg class="th" viewBox="0 0 96 96" preserveAspectRatio="none">
 <defs><clipPath id="c3"><rect x="0" y="27.8" width="96" height="40.6"/></clipPath>
 <radialGradient id="g3s" cx=".5" cy=".3" r=".5"><stop offset="0" stop-color="#f4f4ee"/><stop offset="1" stop-color="#c9cbc4"/></radialGradient></defs>
 <rect width="96" height="96" fill="#000"/>
 <g clip-path="url(#c3)">
  <rect x="0" y="27" width="96" height="42" fill="#8a8a84"/>
  <rect x="30" y="27" width="34" height="26" fill="url(#g3s)"/>
  <rect x="0" y="27" width="17" height="12" fill="#cfc8b8"/>
  <rect x="0" y="39" width="17" height="20" fill="#3c3c3a"/>
  <rect x="2" y="41" width="6" height="10" fill="#24272a"/>
  <rect x="17" y="40" width="16" height="18" fill="#a8a294"/>
  <rect x="18" y="46" width="14" height="3" fill="#6e6a60"/>
  <ellipse cx="22" cy="35" rx="14" ry="8" fill="#8c9a44"/>
  <ellipse cx="30" cy="31" rx="8" ry="5" fill="#b4bc5a"/>
  <ellipse cx="36" cy="43" rx="7" ry="8" fill="#92a048"/>
  <rect x="19.4" y="38" width="1.4" height="21" fill="#3a3020"/>
  <rect x="64" y="27" width="32" height="18" fill="#cdd0d0"/>
  <rect x="66" y="29" width="4" height="6" fill="#8a9094"/><rect x="73" y="29" width="4" height="6" fill="#8a9094"/><rect x="80" y="29" width="4" height="6" fill="#8a9094"/><rect x="88" y="29" width="4" height="6" fill="#8a9094"/>
  <rect x="59" y="27" width="8" height="12" fill="#9ab0c0"/>
  <rect x="66" y="45" width="30" height="15" fill="#3e3a34"/>
  <rect x="70" y="46" width="1" height="13" fill="#6a6256"/><rect x="78" y="46" width="1" height="13" fill="#6a6256"/><rect x="86" y="46" width="1" height="13" fill="#6a6256"/>
  <ellipse cx="64" cy="46" rx="5" ry="10" fill="#44502c"/>
  <path d="M0 58h60l-2 11H0Z" fill="#c9c3b8"/>
  <path d="M0 58h22l-10 5H0Z" fill="#a8a398"/>
  <path d="M56 58h40v11H62Z" fill="#6a6e70"/>
  <path d="M78 63l12 2" stroke="#9a9c9a" stroke-width=".6"/>
  <ellipse cx="47.5" cy="33.5" rx="3.4" ry="3.3" fill="#1a1410"/>
  <ellipse cx="47.5" cy="35.2" rx="1.6" ry="2" fill="#5a3a2a"/>
  <path d="M42.5 54c0-7 1-12 5-12s5 5 5 12Z" fill="#7ea4c4"/>
  <rect x="46.5" y="42" width="2.2" height="6" fill="#eeeeea"/>
  <path d="M44 52h7l-.6 16.4h-2.3l-.6-9-.6 9H44.6Z" fill="#1c2438"/>
 </g>
 <g fill="none" stroke="#fff" stroke-width="1.3"><rect x="81.4" y="5" width="10.2" height="9.3" rx="2.4"/><path d="M81.4 8h10.2M84 5l1.6 3M87.6 5l1.6 3"/></g>
 <path d="M85.2 9.6v3.4l3-1.7Z" fill="#fff"/>
</svg>

<div class="ctt">Your Video</div>
<div class="cdt">Wed Sep 10, 8:30pm</div>
<div class="cst" style="top:141px"><svg class="ic" viewBox="0 0 6 6"><path d="M0 3.1C1 1.2 5 1.2 6 3.1 5 5 1 5 0 3.1Z" fill="#1c2b33"/><circle cx="3" cy="3.1" r="1.05" fill="none" stroke="#fff" stroke-width=".45"/></svg><span>324</span></div>
<div class="cst" style="top:141px;left:47.9px"><svg class="ic" viewBox="0 0 6 6"><path d="M3 5.6L.7 3.3A1.5 1.5 0 0 1 3 1.2 1.5 1.5 0 0 1 5.3 3.3Z" fill="#1c2b33"/></svg><span>1</span></div>
<div class="cst" style="top:151.8px"><svg class="ic" viewBox="0 0 6 6"><path d="M3 .4a2.6 2.6 0 1 1-1.4 4.8L.4 5.6l.4-1.3A2.6 2.6 0 0 1 3 .4Z" fill="#1c2b33"/></svg><span>0</span></div>
<div class="cst" style="top:151.8px;left:47.9px"><svg class="ic" viewBox="0 0 6 6"><path d="M3.4.8L5.8 3 3.4 5.2V4C2 4 1 4.3.3 5.3.5 3.5 1.5 2.3 3.4 2.1Z" fill="#1c2b33"/></svg><span>0</span></div>
</div>
<div class="card" style="left:310.00px">
<svg class="th" viewBox="0 0 96 96" preserveAspectRatio="none">
 <rect width="96" height="96" fill="#e9e5de"/>
 <rect x="0" y="0" width="76" height="32" fill="#f7f7f4"/>
 <rect x="28" y="0" width="2" height="30" fill="#d8d4cc"/>
 <rect x="74" y="0" width="12" height="42" fill="#d9ccb4"/>
 <path d="M30 34h44v38H30Z" fill="#9c948c"/>
 <rect x="32" y="31" width="14" height="16" rx="3" fill="#e6dcd2"/>
 <rect x="62" y="30" width="12" height="17" rx="3" fill="#ece8e2"/>
 <rect x="30" y="50" width="44" height="6" fill="#847c74"/>
 <rect x="26" y="70" width="46" height="26" fill="#c8bcae"/>
 <ellipse cx="25" cy="33" rx="5.5" ry="5.5" fill="#c9a070"/>
 <ellipse cx="25.5" cy="36" rx="3.8" ry="3.6" fill="#e6bca4"/>
 <path d="M20 48c0-4 3-7 7-7s8 3 8 8v17H21Z" fill="#6c9ad0"/>
 <ellipse cx="41.5" cy="5" rx="9" ry="7" fill="#d0ac78"/>
 <ellipse cx="37.5" cy="8" rx="3.2" ry="4" fill="#e8c2a6"/>
 <path d="M38 16c4-4 13-4 17-1 5 4 8 14 9 24l-2 6H44c-4-8-7-20-6-29Z" fill="#a8a8a8"/>
 <path d="M46 41h16l2 10 2 28-5 2-4-18-3 18h-6l1-22Z" fill="#26324c"/>
 <path d="M50 80l5 2 6 1v3h-11Z" fill="#e6c8b0"/>
 <rect x="30" y="78" width="6" height="5" fill="#e0443a"/><rect x="37" y="74" width="7" height="6" fill="#4ab0d8"/><rect x="45" y="79" width="6" height="5" fill="#e8c830"/><rect x="62" y="71" width="5" height="5" fill="#e0443a"/><rect x="33" y="84" width="6" height="4" fill="#58b058"/><rect x="40" y="81" width="5" height="4" fill="#f0a040"/>
 <path d="M28 96c2-8 10-12 20-12 7 0 12 2 14 6v6Z" fill="#2a3040"/>
 <path d="M0 2c6-3 16-2 21 4 4 6 4 16 4 26 1 8 4 14 7 20l-6 4H0Z" fill="#b08c64"/>
 <path d="M2 14c1-4 5-6 9-5 5 1 7 5 7 10 0 7-2 13-4 17-2 3-6 3-8 1-3-4-4-9-4-14Z" fill="#dcae96"/>
 <path d="M0 48c4-2 10-3 16-3s11 2 14 6c3 10 3 28 2 45H0Z" fill="#8e8c88"/>
 <path d="M6 50c4 3 10 4 16 1l1 10c-6 3-12 2-17-1Z" fill="#a09e9a"/>
 <path d="M80 4c3-4 10-5 14-2 2 2 2 6 2 10v20c-3 2-6 2-8 0-3-5-6-10-8-16-1-5-1-9 0-12Z" fill="#17120f"/>
 <path d="M81 16c1-4 4-6 8-5 4 1 6 5 6 10 0 8-2 14-6 17-3 2-6 1-7-2-1-6-2-13-1-20Z" fill="#6a4232"/>
 <path d="M68 46c4-6 10-9 17-9 6 0 10 3 11 6v53H66c-1-18-1-36 2-50Z" fill="#dcb232"/>
 <path d="M84 38l4 12 4-12Z" fill="#6a4232"/>
 <path d="M72 88c3-2 7-2 9 0l1 8h-10Z" fill="#a06a50"/>
 <rect x="81.4" y="5" width="10.4" height="9.4" rx="1.6" fill="#fff"/>
 <path d="M85 7.3v4.8l4-2.4Z" fill="#111"/>
</svg>

<div class="ctt">Your Video</div>
<div class="cdt">Sun Sep 21, 2:21pm</div>
<div class="cst" style="top:141px"><svg class="ic" viewBox="0 0 6 6"><path d="M0 3.1C1 1.2 5 1.2 6 3.1 5 5 1 5 0 3.1Z" fill="#1c2b33"/><circle cx="3" cy="3.1" r="1.05" fill="none" stroke="#fff" stroke-width=".45"/></svg><span>322</span></div>
<div class="cst" style="top:141px;left:47.9px"><svg class="ic" viewBox="0 0 6 6"><path d="M3 5.6L.7 3.3A1.5 1.5 0 0 1 3 1.2 1.5 1.5 0 0 1 5.3 3.3Z" fill="#1c2b33"/></svg><span>1</span></div>
<div class="cst" style="top:151.8px"><svg class="ic" viewBox="0 0 6 6"><path d="M3 .4a2.6 2.6 0 1 1-1.4 4.8L.4 5.6l.4-1.3A2.6 2.6 0 0 1 3 .4Z" fill="#1c2b33"/></svg><span>0</span></div>
<div class="cst" style="top:151.8px;left:47.9px"><svg class="ic" viewBox="0 0 6 6"><path d="M3.4.8L5.8 3 3.4 5.2V4C2 4 1 4.3.3 5.3.5 3.5 1.5 2.3 3.4 2.1Z" fill="#1c2b33"/></svg><span>1</span></div>
</div>
<div class="card" style="left:411.20px">
<svg class="th" viewBox="0 0 96 96" preserveAspectRatio="none">
 <defs><radialGradient id="g5" cx=".5" cy=".5" r=".75"><stop offset="0" stop-color="#0a64c6"/><stop offset="1" stop-color="#0552ae"/></radialGradient></defs>
 <rect width="96" height="96" fill="url(#g5)"/>
 <g fill="#fff" font-family="Liberation Sans" font-weight="bold">
  <text x="7.8" y="11.4" font-size="19" textLength="86.7" lengthAdjust="spacingAndGlyphs">CHOOSE</text>
  <text x="0" y="30.8" font-size="21" textLength="96" lengthAdjust="spacingAndGlyphs">YOUR PATH.</text>
  <text x="7.4" y="74.8" font-size="9.6" textLength="87" lengthAdjust="spacingAndGlyphs">WEALTHY AFFILIATE</text>
  <text x="15" y="89.4" font-size="8.2" textLength="75" lengthAdjust="spacingAndGlyphs">CLICK TO SEE MY</text>
  <text x="6" y="98.4" font-size="8.2" textLength="86" lengthAdjust="spacingAndGlyphs">SUCCESS ROAD MAP</text>
 </g>
 <g fill="none" stroke="#f4f6fa" stroke-width="4.6">
  <path d="M21.3 38.7V54c0 5.5 2.8 7.1 8 7.1s8-1.6 8-7.1V38.7"/>
  <path d="M37.3 54c0 5.5 3 7.1 8.6 7.1s8.6-1.6 8.6-7.1V46c0-3.6 1.6-5 5-5h5.5c2.6 0 4 .8 5.3 3.2l9.6 18.4"/>
  <path d="M56.6 52.4h9" stroke-width="3.4"/>
 </g>
 <g fill="none" stroke="#fff" stroke-width="1.1" opacity=".8"><rect x="82" y="5.5" width="7.4" height="7.4" rx="1.5"/><path d="M84.3 15h5.4a1.7 1.7 0 0 0 1.7-1.7V7.9"/></g>
</svg>

<div class="ctt"><svg class="mg" viewBox="0 0 10 9"><path d="M1 3.2l5.6-2.6 1.6 6.4-5.8-.8Z" fill="#e8453c"/><path d="M6.6.6l1.6 6.4" stroke="#c0302a" stroke-width="1.4"/><path d="M2.6 6.4l.8 2.2h1.2l-.5-2Z" fill="#8aa0b0"/><path d="M8.4 2.6l1.2-.6M8.8 4.2h1.2" stroke="#f0a030" stroke-width=".6"/></svg> Class 1 Starts<br>Tomorrow And You'v…</div>
<div class="cdt">Sun Sep 21, 1:54pm</div>
<div class="cst" style="top:141px"><svg class="ic" viewBox="0 0 6 6"><path d="M0 3.1C1 1.2 5 1.2 6 3.1 5 5 1 5 0 3.1Z" fill="#1c2b33"/><circle cx="3" cy="3.1" r="1.05" fill="none" stroke="#fff" stroke-width=".45"/></svg><span>230</span></div>
<div class="cst" style="top:141px;left:47.9px"><svg class="ic" viewBox="0 0 6 6"><path d="M3 5.6L.7 3.3A1.5 1.5 0 0 1 3 1.2 1.5 1.5 0 0 1 5.3 3.3Z" fill="#1c2b33"/></svg><span>1</span></div>
<div class="cst" style="top:151.8px"><svg class="ic" viewBox="0 0 6 6"><path d="M3 .4a2.6 2.6 0 1 1-1.4 4.8L.4 5.6l.4-1.3A2.6 2.6 0 0 1 3 .4Z" fill="#1c2b33"/></svg><span>1</span></div>
<div class="cst" style="top:151.8px;left:47.9px"><svg class="ic" viewBox="0 0 6 6"><path d="M3.4.8L5.8 3 3.4 5.2V4C2 4 1 4.3.3 5.3.5 3.5 1.5 2.3 3.4 2.1Z" fill="#1c2b33"/></svg><span>1</span></div>
</div>
<div class="card" style="left:512.40px">
<svg class="th" viewBox="0 0 96 96" preserveAspectRatio="none">
 <rect width="96" height="96" fill="#7a7462"/>
 <rect width="4" height="96" fill="#9a9482"/>
 <ellipse cx="9" cy="40" rx="6.5" ry="30" fill="#4a3020"/>
 <ellipse cx="8" cy="22" rx="4" ry="10" fill="#6b4428"/>
 <ellipse cx="10" cy="75" rx="7" ry="20" fill="#3a2618"/>
</svg>

<div class="ctt">Fr<br>Wh</div>
<div class="cdt">Fri</div>
<div class="cst" style="top:141px"><svg class="ic" viewBox="0 0 6 6"><path d="M0 3.1C1 1.2 5 1.2 6 3.1 5 5 1 5 0 3.1Z" fill="#1c2b33"/><circle cx="3" cy="3.1" r="1.05" fill="none" stroke="#fff" stroke-width=".45"/></svg></div>
<div class="cst" style="top:151.8px"><svg class="ic" viewBox="0 0 6 6"><path d="M3 .4a2.6 2.6 0 1 1-1.4 4.8L.4 5.6l.4-1.3A2.6 2.6 0 0 1 3 .4Z" fill="#1c2b33"/></svg></div>
</div>
</div>
<div class="a nxt" style="left:812.9px;top:398.2px"></div>
<!-- /CARDS -->
<!-- breakdown -->
<div class="t b" style="left:764px;top:132.5px;font-size:8.3px">Views breakdown</div>
<div class="t" style="left:764px;top:144.4px;font-size:6.2px;color:#65676b">Aug 31 – Sep 27</div>
<div class="t b" style="left:764px;top:162.4px;font-size:7.7px">Total</div>
<div class="t b" style="left:764px;top:174.8px;font-size:11px">4,912<span class="chg" style="font-weight:normal;margin-left:6px"><svg class="ua" viewBox="0 0 6 7"><path d="M3 7V.8M.4 3.3L3 .7l2.6 2.6" fill="none" stroke="#2e8a66" stroke-width="1"/></svg>5.2K%</span></div>
<div class="t b" style="left:764px;top:196.2px;font-size:7.7px">From organic</div>
<div class="t b" style="left:764px;top:209px;font-size:11px">4,912<span class="chg" style="font-weight:normal;margin-left:6px"><svg class="ua" viewBox="0 0 6 7"><path d="M3 7V.8M.4 3.3L3 .7l2.6 2.6" fill="none" stroke="#2e8a66" stroke-width="1"/></svg>5.2K%</span></div>
<div class="t b" style="left:764px;top:230.6px;font-size:7.7px">From ads</div>
<div class="t b" style="left:764px;top:243.9px;font-size:11px">0<span class="chg" style="font-weight:normal;margin-left:5px;color:#65676b;-webkit-text-stroke:.1px #65676b">0%</span></div>

</body></html>
